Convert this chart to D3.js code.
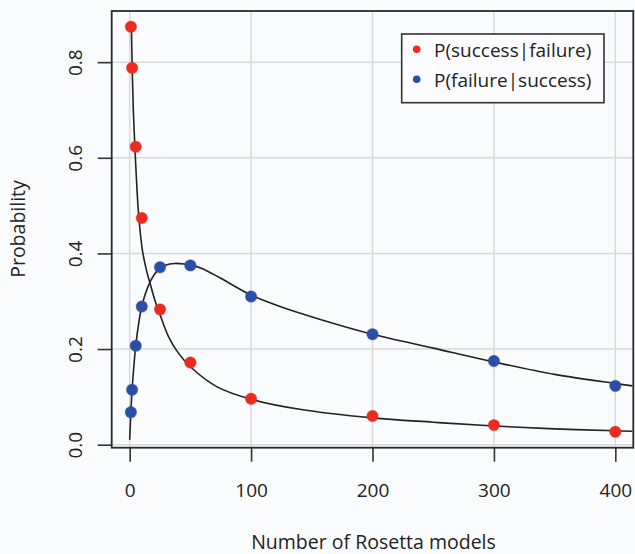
<!DOCTYPE html>
<html><head><meta charset="utf-8">
<script src="https://cdn.jsdelivr.net/npm/d3@7"></script>
<style>html,body{margin:0;padding:0;background:#fafbfd;} svg{display:block;font-family:"Open Sans",sans-serif;}</style>
</head><body><svg id="c" width="635" height="554"></svg>
<script>
// ---- data ----
const models = [1, 2, 5, 10, 25, 50, 100, 200, 300, 400];
const pSuccessGivenFailure = [0.874, 0.788, 0.623, 0.474, 0.283, 0.172, 0.096, 0.060, 0.041, 0.027];
const pFailureGivenSuccess = [0.068, 0.115, 0.207, 0.289, 0.371, 0.375, 0.310, 0.231, 0.175, 0.123];
// fitted curves
const fitRedX = [1.4, 2.1, 3, 4.3, 6, 7.6, 10.6, 14, 17.3, 21, 25, 32, 40, 50, 72, 100, 140, 200, 250, 300, 350, 400, 414];
const fitRedY = [0.877, 0.787, 0.70, 0.623, 0.535, 0.474, 0.405, 0.363, 0.333, 0.30, 0.272, 0.226, 0.192, 0.163, 0.121, 0.095, 0.074, 0.056, 0.047, 0.039, 0.033, 0.029, 0.028];
const fitBlueX = [0, 1, 2, 3.5, 5, 7.5, 10, 15, 20, 25, 30, 37, 45, 50, 60, 75, 100, 125, 157, 200, 250, 300, 350, 400, 414];
const fitBlueY = [0.01, 0.068, 0.115, 0.165, 0.207, 0.255, 0.29, 0.33, 0.355, 0.369, 0.376, 0.379, 0.378, 0.376, 0.368, 0.348, 0.313, 0.288, 0.262, 0.231, 0.202, 0.173, 0.147, 0.128, 0.123];
const xTicks = [0, 100, 200, 300, 400];
const yTicks = [0, 0.2, 0.4, 0.6, 0.8];
const seriesNames = ["P(success|failure)", "P(failure|success)"];
const seriesColors = ["#ec2a20", "#2b4ea6"];

// ---- layout ----
const svg = d3.select("#c");
const L = 111.7, R = 633.3, T = 11, B = 447.7;
const x = d3.scaleLinear().domain([-14.8, 414.8]).range([L, R]);
const y = d3.scaleLinear().domain([-0.0063, 0.907]).range([B, T]);

svg.append("rect").attr("width", 635).attr("height", 554).attr("fill", "#fafbfd");

// grid
const grid = svg.append("g").attr("stroke", "#d9d9db").attr("stroke-width", 1.5);
grid.selectAll("line.v").data(xTicks).join("line")
  .attr("x1", d => x(d)).attr("x2", d => x(d)).attr("y1", T).attr("y2", B);
grid.selectAll("line.h").data(yTicks).join("line")
  .attr("y1", d => y(d)).attr("y2", d => y(d)).attr("x1", L).attr("x2", R);

// axes
const xAxis = d3.axisBottom(x).tickValues(xTicks).tickSize(14).tickFormat(d3.format("d"));
const gx = svg.append("g").attr("transform", `translate(0,${B})`).call(xAxis);
gx.select(".domain").remove();
gx.selectAll(".tick line").attr("stroke", "#333").attr("stroke-width", 1.6);
gx.selectAll(".tick text").attr("font-size", 19).attr("font-family", "Open Sans")
  .attr("fill", "#222").attr("y", 0).attr("dy", 0).attr("transform", `translate(0,${496.5 - B})`);

const yAxis = d3.axisLeft(y).tickValues(yTicks).tickSize(14).tickFormat(d3.format(".1f"));
const gy = svg.append("g").attr("transform", `translate(${L},0)`).call(yAxis);
gy.select(".domain").remove();
gy.selectAll(".tick line").attr("stroke", "#333").attr("stroke-width", 1.6);
gy.selectAll(".tick text").attr("font-size", 19).attr("font-family", "Open Sans")
  .attr("fill", "#222").attr("x", 0).attr("dy", 0).attr("text-anchor", "middle")
  .attr("transform", `translate(${82 - L},0) rotate(-90)`);

// curves
svg.append("clipPath").attr("id", "clip").append("rect")
  .attr("x", L).attr("y", T).attr("width", R - L).attr("height", B - T);
const line = d3.line().x(d => x(d[0])).y(d => y(d[1])).curve(d3.curveCatmullRom.alpha(0.5));
const curves = [d3.zip(fitRedX, fitRedY), d3.zip(fitBlueX, fitBlueY)];
svg.append("g").attr("clip-path", "url(#clip)").selectAll("path").data(curves).join("path")
  .attr("d", line).attr("fill", "none").attr("stroke", "#222").attr("stroke-width", 1.6);

// points
const series = [pSuccessGivenFailure, pFailureGivenSuccess];
series.forEach((vals, i) => {
  svg.append("g").selectAll("circle").data(d3.zip(models, vals)).join("circle")
    .attr("cx", d => x(d[0])).attr("cy", d => y(d[1])).attr("r", 5.7)
    .attr("fill", seriesColors[i]).attr("stroke", seriesColors[i]).attr("stroke-opacity", 0.35).attr("stroke-width", 1.2);
});

// box
svg.append("rect").attr("x", L).attr("y", T).attr("width", R - L).attr("height", B - T)
  .attr("fill", "none").attr("stroke", "#2a2a2a").attr("stroke-width", 1.8);

// legend
const lg = svg.append("g");
lg.append("rect").attr("x", 401.7).attr("y", 34).attr("width", 202.3).attr("height", 68.7)
  .attr("fill", "#fcfcfe").attr("stroke", "#333").attr("stroke-width", 1.6);
seriesNames.forEach((name, i) => {
  lg.append("circle").attr("cx", 416.7).attr("cy", 49.3 + i * 30).attr("r", 3.8).attr("fill", seriesColors[i]);
  lg.append("text").attr("x", 434).attr("y", 57.3 + i * 30).attr("font-size", 19).attr("fill", "#222").text(name);
});

// axis titles
svg.append("text").attr("x", 373.5).attr("y", 549).attr("text-anchor", "middle")
  .attr("font-size", 19.5).attr("fill", "#222").text("Number of Rosetta models");
svg.append("text").attr("transform", "translate(25,229) rotate(-90)").attr("text-anchor", "middle")
  .attr("font-size", 19.5).attr("fill", "#222").text("Probability");
</script></body></html>
